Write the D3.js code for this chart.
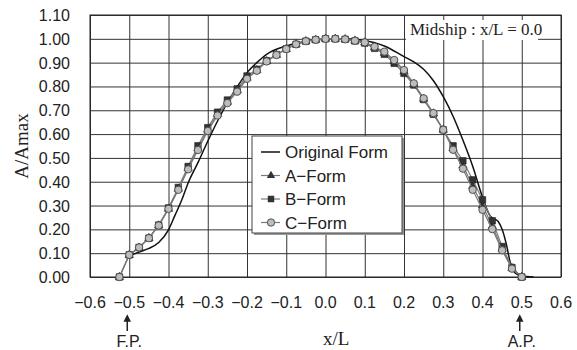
<!DOCTYPE html>
<html lang="en">
  <head>
    <meta charset="utf-8">
    <script type="text/javascript" src="https://d3js.org/d3.v7.min.js"></script>
    <style>
      body { margin: 0; background: white; }
      .tick-label { font-family: "Liberation Sans", Arial, sans-serif; font-size: 16px; fill: #222; }
      .legend-label { font-family: "Liberation Sans", Arial, sans-serif; font-size: 17px; fill: #222; }
      .serif { font-family: "Liberation Serif", "Times New Roman", serif; fill: #222; }
    </style>
  </head>
  <body>
    <script type="text/javascript">

    // Data
    var stations = [-0.525, -0.5, -0.475, -0.45, -0.425, -0.4, -0.375, -0.35, -0.325, -0.3,
                    -0.275, -0.25, -0.225, -0.2, -0.175, -0.15, -0.125, -0.1, -0.075, -0.05,
                    -0.025, 0.0, 0.025, 0.05, 0.075, 0.1, 0.125, 0.15, 0.175, 0.2,
                    0.225, 0.25, 0.275, 0.3, 0.325, 0.35, 0.375, 0.4, 0.425, 0.45,
                    0.475, 0.5];
    var aForm = [0.0, 0.092, 0.123, 0.163, 0.216, 0.286, 0.370, 0.457, 0.540, 0.618,
                 0.684, 0.735, 0.783, 0.836, 0.868, 0.906, 0.932, 0.957, 0.977, 0.990,
                 0.996, 1.0, 1.0, 0.998, 0.992, 0.984, 0.964, 0.941, 0.905, 0.862,
                 0.810, 0.748, 0.686, 0.618, 0.540, 0.468, 0.382, 0.300, 0.214, 0.118,
                 0.037, 0.0];
    var bForm = [0.0, 0.093, 0.124, 0.163, 0.218, 0.290, 0.376, 0.464, 0.551, 0.627,
                 0.692, 0.743, 0.790, 0.844, 0.872, 0.908, 0.934, 0.958, 0.977, 0.990,
                 0.996, 1.0, 1.0, 0.998, 0.991, 0.982, 0.960, 0.935, 0.897, 0.855,
                 0.806, 0.745, 0.683, 0.618, 0.551, 0.488, 0.408, 0.324, 0.236, 0.128,
                 0.040, 0.0];
    var cForm = [0.0, 0.093, 0.124, 0.163, 0.216, 0.286, 0.366, 0.452, 0.533, 0.613,
                 0.678, 0.730, 0.778, 0.832, 0.866, 0.905, 0.932, 0.957, 0.977, 0.990,
                 0.996, 1.0, 1.0, 0.998, 0.992, 0.985, 0.967, 0.946, 0.911, 0.869,
                 0.813, 0.750, 0.688, 0.618, 0.534, 0.455, 0.366, 0.282, 0.201, 0.112,
                 0.035, 0.0];
    var origX = [-0.5, -0.475, -0.45, -0.425, -0.4, -0.383, -0.366, -0.35, -0.325, -0.3,
                 -0.275, -0.25, -0.225, -0.2, -0.175, -0.15, -0.1, -0.05, 0.0, 0.05,
                 0.1, 0.15, 0.2, 0.225, 0.25, 0.275, 0.3, 0.325, 0.35, 0.375,
                 0.4, 0.42, 0.44, 0.45, 0.462, 0.47, 0.483, 0.5, 0.53];
    var origY = [0.088, 0.105, 0.120, 0.145, 0.198, 0.261, 0.324, 0.395, 0.480, 0.570,
                 0.655, 0.732, 0.798, 0.858, 0.900, 0.935, 0.970, 0.990, 0.998, 1.0,
                 0.993, 0.970, 0.925, 0.903, 0.872, 0.824, 0.757, 0.675, 0.575, 0.465,
                 0.335, 0.255, 0.233, 0.200, 0.128, 0.065, 0.017, 0.004, 0.0];
    var xTicks = [-0.6, -0.5, -0.4, -0.3, -0.2, -0.1, 0.0, 0.1, 0.2, 0.3, 0.4, 0.5, 0.6];
    var yTicks = [0.0, 0.1, 0.2, 0.3, 0.4, 0.5, 0.6, 0.7, 0.8, 0.9, 1.0, 1.1];
    var seriesNames = ["A\u2212Form", "B\u2212Form", "C\u2212Form"];

    // Sizes
    var svgW = 577;
    var svgH = 350;
    var plotL = 90, plotT = 15, plotW = 471, plotH = 262;

    var xScale = d3.scaleLinear().domain([-0.6, 0.6]).range([plotL, plotL + plotW]);
    var yScale = d3.scaleLinear().domain([0, 1.1]).range([plotT + plotH, plotT]);

    var svg = d3.select("body")
                .append("svg")
                  .attr("width", svgW)
                  .attr("height", svgH);

    var defs = svg.append("defs");
    defs.append("marker")
          .attr("id", "arrow")
          .attr("viewBox", "0 0 10 10")
          .attr("refX", 5)
          .attr("refY", 5)
          .attr("markerWidth", 5)
          .attr("markerHeight", 6)
          .attr("orient", "auto")
        .append("path")
          .attr("d", "M0,0 L10,5 L0,10 z")
          .attr("fill", "#222");

    // Grid lines
    var xAxis = d3.axisBottom(xScale)
                  .tickValues(xTicks)
                  .tickSize(-plotH)
                  .tickFormat("");
    svg.append("g")
          .attr("transform", "translate(0," + (plotT + plotH) + ")")
          .call(xAxis)
          .call(function(g) { g.select(".domain").remove(); })
          .selectAll("line")
            .attr("stroke", "#333");

    var yAxis = d3.axisLeft(yScale)
                  .tickValues(yTicks)
                  .tickSize(-plotW)
                  .tickFormat("");
    svg.append("g")
          .attr("transform", "translate(" + plotL + ",0)")
          .call(yAxis)
          .call(function(g) { g.select(".domain").remove(); })
          .selectAll("line")
            .attr("stroke", "#333");

    // Plot frame
    svg.append("rect")
          .attr("x", plotL)
          .attr("y", plotT)
          .attr("width", plotW)
          .attr("height", plotH)
          .attr("fill", "none")
          .attr("stroke", "#222");

    // Tick labels
    var fmtX = function(v) { return (v < 0 ? "\u2212" : "") + d3.format(".1f")(Math.abs(v)); };
    svg.selectAll(".xlab")
        .data(xTicks)
        .enter()
        .append("text")
          .attr("class", "tick-label")
          .attr("x", function(d) { return xScale(d); })
          .attr("y", 308)
          .style("text-anchor", "middle")
          .text(fmtX);

    svg.selectAll(".ylab")
        .data(yTicks)
        .enter()
        .append("text")
          .attr("class", "tick-label")
          .attr("x", 70)
          .attr("y", function(d) { return yScale(d) + 6; })
          .style("text-anchor", "end")
          .text(function(d) { return d3.format(".2f")(d); });

    // Axis titles
    svg.append("text")
          .attr("class", "serif")
          .attr("transform", "translate(28," + 146 + ") rotate(-90)")
          .style("text-anchor", "middle")
          .style("font-size", "19px")
          .text("A/Amax");

    svg.append("text")
          .attr("class", "serif")
          .attr("x", 323)
          .attr("y", 345)
          .style("font-size", "19px")
          .text("x/L");

    // F.P. and A.P. marks
    var perps = [{v: -0.5, label: "F.P."}, {v: 0.5, label: "A.P."}];
    perps.forEach(function(p) {
      svg.append("line")
            .attr("x1", xScale(p.v) - 2)
            .attr("x2", xScale(p.v) - 2)
            .attr("y1", 331)
            .attr("y2", 318)
            .attr("stroke", "#222")
            .attr("stroke-width", 1.5)
            .attr("marker-end", "url(#arrow)");
      svg.append("text")
            .attr("class", "tick-label")
            .attr("x", xScale(p.v))
            .attr("y", 347)
            .style("text-anchor", "middle")
            .text(p.label);
    });

    // Curves
    var line = d3.line()
                  .x(function(d) { return xScale(d[0]); })
                  .y(function(d) { return yScale(d[1]); });

    var origLine = d3.line()
                  .x(function(d) { return xScale(d[0]); })
                  .y(function(d) { return yScale(d[1]); })
                  .curve(d3.curveMonotoneX);

    var triangle = d3.symbol().type(d3.symbolTriangle).size(30);
    var square = d3.symbol().type(d3.symbolSquare).size(42);

    function drawSeries(values, kind) {
      var pts = stations.map(function(x, i) { return [x, values[i]]; });
      svg.append("path")
            .attr("d", line(pts))
            .attr("fill", "none")
            .attr("stroke", "#7a7a7a")
            .attr("stroke-width", 1.2);
      var marks = svg.append("g").selectAll("path")
                      .data(pts)
                      .enter();
      if (kind == "circle") {
        marks.append("circle")
              .attr("cx", function(d) { return xScale(d[0]); })
              .attr("cy", function(d) { return yScale(d[1]); })
              .attr("r", 3.7)
              .attr("fill", "#bdbdbd")
              .attr("stroke", "#444")
              .attr("stroke-width", 0.9);
      } else {
        marks.append("path")
              .attr("transform", function(d) { return "translate(" + xScale(d[0]) + "," + yScale(d[1]) + ")"; })
              .attr("d", kind == "triangle" ? triangle : square)
              .attr("fill", "#333")
              .attr("stroke", "#222")
              .attr("stroke-width", 0.6);
      }
    }

    var origPts = origX.map(function(x, i) { return [x, origY[i]]; });
    svg.append("path")
          .attr("d", origLine(origPts))
          .attr("fill", "none")
          .attr("stroke", "#111")
          .attr("stroke-width", 1.5);

    drawSeries(aForm, "triangle");
    drawSeries(bForm, "square");
    drawSeries(cForm, "circle");

    // Midship note
    svg.append("rect")
          .attr("x", 406)
          .attr("y", 20)
          .attr("width", 132)
          .attr("height", 20)
          .attr("fill", "white");
    svg.append("text")
          .attr("class", "serif")
          .attr("x", 410)
          .attr("y", 35)
          .style("font-size", "17px")
          .text("Midship : x/L = 0.0");

    // Legend
    var legX = 252, legY = 136, legW = 150, legH = 97;
    svg.append("rect")
          .attr("x", legX + 2)
          .attr("y", legY + 2)
          .attr("width", legW)
          .attr("height", legH)
          .attr("fill", "#999");
    svg.append("rect")
          .attr("x", legX)
          .attr("y", legY)
          .attr("width", legW)
          .attr("height", legH)
          .attr("fill", "white")
          .attr("stroke", "#444");

    var legRows = [152, 175.5, 199, 222.5];
    svg.append("line")
          .attr("x1", 261).attr("x2", 280)
          .attr("y1", legRows[0]).attr("y2", legRows[0])
          .attr("stroke", "#111").attr("stroke-width", 1.5);
    svg.append("text")
          .attr("class", "legend-label")
          .attr("x", 285)
          .attr("y", legRows[0] + 6)
          .text("Original Form");

    var kinds = ["triangle", "square", "circle"];
    seriesNames.forEach(function(name, i) {
      var yy = legRows[i + 1];
      svg.append("line")
            .attr("x1", 261).attr("x2", 280)
            .attr("y1", yy).attr("y2", yy)
            .attr("stroke", "#7a7a7a").attr("stroke-width", 1.2);
      if (kinds[i] == "circle") {
        svg.append("circle")
              .attr("cx", 271).attr("cy", yy).attr("r", 3.7)
              .attr("fill", "#bdbdbd").attr("stroke", "#444").attr("stroke-width", 0.9);
      } else {
        svg.append("path")
              .attr("transform", "translate(271," + yy + ")")
              .attr("d", kinds[i] == "triangle" ? triangle : square)
              .attr("fill", "#333");
      }
      svg.append("text")
            .attr("class", "legend-label")
            .attr("x", 285)
            .attr("y", yy + 6)
            .text(name);
    });

    </script>
  </body>
</html>
